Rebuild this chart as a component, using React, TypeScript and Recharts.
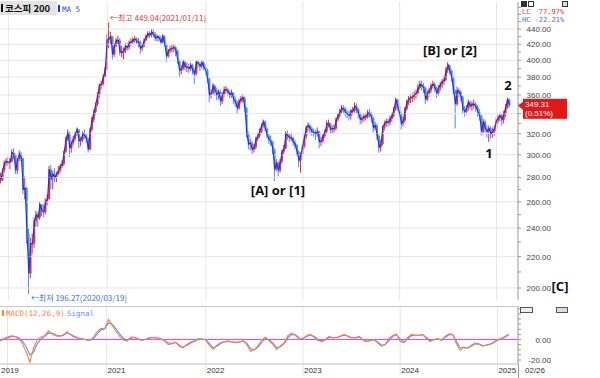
import React from "react";
import { ComposedChart, Line, Bar, XAxis, YAxis, ReferenceLine, ReferenceDot } from "recharts";

// KOSPI 200, weekly samples (week of 2019-12-02 .. 2025-02-24)
const closes = [
  278, 286, 293, 294, 293,
  294, 302, 300, 286, 296, 301, 297, 270, 271, 236, 209, 229, 229, 245, 250, 248, 258,
  253, 252, 260, 262, 287, 279, 283, 280, 283, 286, 290, 292, 303, 315, 321, 306, 311, 315,
  320, 324, 313, 314, 320, 318, 315, 305, 324, 334, 342, 350, 360, 371, 372, 380, 389,
  425, 428, 430, 407, 418, 425, 425, 410, 410, 412, 418, 416, 422, 423, 426, 427, 423,
  423, 415, 418, 425, 430, 434, 432, 436, 433, 428, 430, 428, 423, 430, 420, 405, 412, 414,
  415, 416, 412, 400, 388, 390, 398, 392, 392, 390, 394, 388, 384, 398, 396, 393, 397,
  392, 388, 378, 360, 362, 370, 365, 360, 363, 353, 360, 366, 366, 363, 360, 362, 355,
  352, 346, 353, 356, 357, 346, 320, 310, 311, 305, 307, 315, 318, 322, 328, 332, 325, 318,
  314, 312, 305, 287, 293, 286, 294, 303, 306, 320, 318, 316, 316, 312, 309, 303, 295,
  300, 308, 317, 326, 328, 325, 322, 321, 320, 322, 312, 313, 318, 322, 330, 330, 324,
  325, 325, 334, 338, 342, 346, 345, 341, 340, 338, 343, 343, 348, 345, 340, 334, 335, 337,
  337, 341, 340, 336, 326, 328, 318, 307, 310, 326, 330, 332, 331, 335, 338, 345, 355,
  348, 340, 330, 333, 345, 352, 356, 357, 358, 360, 362, 368, 372, 370, 368, 355, 362,
  365, 370, 372, 368, 362, 368, 372, 375, 377, 388, 394, 388, 380, 365, 350, 365, 363, 358,
  345, 342, 346, 352, 348, 350, 350, 347, 342, 338, 322, 332, 325, 322, 325, 320, 322,
  325, 333, 336, 338, 334, 340, 347, 355, 349.31,
];

const highs = [
  284, 288, 295, 297, 298,
  297, 305, 306, 301, 297, 304, 303, 297, 281, 272, 240, 233, 236, 248, 253, 252, 260,
  258, 258, 263, 266, 290, 291, 286, 288, 285, 290, 292, 295, 304, 317, 324, 322, 313, 318,
  322, 326, 324, 317, 322, 324, 320, 316, 326, 337, 344, 352, 363, 373, 376, 383, 392,
  433, 449.04, 436, 431, 421, 428, 431, 428, 418, 416, 422, 422, 425, 428, 429, 431, 429,
  428, 425, 421, 428, 433, 437, 437, 440, 440, 436, 433, 432, 431, 433, 432, 421, 414, 418,
  419, 420, 418, 413, 401, 394, 401, 400, 397, 396, 397, 396, 390, 400, 401, 398, 400,
  399, 395, 390, 380, 366, 373, 372, 368, 366, 366, 363, 369, 370, 368, 365, 366, 363,
  358, 354, 356, 359, 361, 358, 347, 322, 315, 313, 310, 317, 321, 325, 330, 334, 333, 326,
  320, 318, 313, 306, 296, 294, 296, 305, 309, 322, 323, 320, 321, 317, 314, 310, 304,
  302, 310, 319, 328, 331, 330, 327, 325, 324, 326, 323, 317, 320, 324, 333, 334, 331,
  328, 329, 336, 340, 345, 349, 349, 347, 344, 343, 345, 347, 352, 351, 346, 341, 338, 340,
  341, 344, 345, 342, 337, 332, 330, 319, 314, 328, 333, 335, 335, 338, 341, 347, 357,
  356, 350, 342, 337, 347, 355, 359, 361, 362, 364, 366, 372, 376, 376, 373, 369, 365,
  368, 373, 376, 374, 369, 371, 375, 378, 381, 392, 398, 395, 389, 381, 366, 369, 368, 365,
  359, 348, 349, 355, 354, 353, 355, 352, 349, 345, 339, 335, 334, 328, 328, 327, 326,
  328, 336, 339, 341, 340, 343, 350, 357, 356,
];

const lows = [
  275, 277, 284, 290, 290,
  287, 293, 296, 283, 283, 294, 294, 266, 262, 229, 196.27, 206, 222, 226, 241, 241, 246,
  249, 248, 250, 257, 262, 270, 270, 276, 276, 282, 284, 288, 290, 302, 313, 298, 302, 309,
  313, 318, 306, 308, 312, 315, 311, 302, 304, 322, 331, 339, 348, 357, 366, 370, 379,
  388, 415, 420, 401, 404, 416, 420, 406, 404, 401, 409, 412, 413, 418, 420, 422, 419,
  416, 408, 411, 416, 424, 428, 428, 429, 429, 424, 424, 423, 419, 421, 417, 398, 403, 409,
  410, 410, 405, 396, 380, 383, 388, 388, 386, 385, 387, 383, 372, 382, 391, 387, 390,
  388, 382, 373, 352, 356, 360, 359, 354, 355, 348, 350, 358, 362, 359, 356, 357, 350,
  347, 340, 344, 351, 352, 342, 316, 305, 304, 301, 302, 305, 313, 316, 320, 326, 322, 315,
  310, 308, 300, 277, 285, 281, 284, 292, 300, 305, 314, 312, 313, 308, 305, 299, 289,
  284, 298, 306, 315, 322, 320, 318, 317, 314, 317, 306, 308, 311, 316, 320, 326, 320,
  320, 321, 323, 332, 336, 340, 341, 337, 335, 333, 334, 339, 341, 340, 335, 329, 330, 332,
  333, 335, 336, 331, 321, 323, 314, 302, 303, 309, 323, 327, 327, 328, 332, 336, 343,
  343, 334, 324, 327, 331, 343, 349, 351, 352, 354, 356, 359, 366, 365, 362, 350, 353,
  358, 362, 367, 363, 357, 359, 365, 368, 371, 375, 385, 383, 375, 361, 325, 348, 358, 353,
  340, 337, 339, 343, 344, 343, 345, 342, 337, 333, 318, 319, 321, 316, 312, 315, 316,
  318, 323, 330, 332, 328, 330, 337, 345, 346,
];

// MACD(12,26,9) and signal, read every second week
const macdVals = [
  -1, 1, 2.5, 3.5, 3, 0.5, -4, -12, -22, -8, 0, 2.5, 4, 8.5, 5, 3.5, 3, 5, 7.5, 4,
  2, 1, 0.5, -0.5, -1, 2.5, 8, 11, 10.5, 19.5, 14, 8, 3, -0.5, -1.5, 2.5, 2, 0, -1, 0.5,
  2, 2, 1.5, 0.5, -1.5, -5, -4, -2.5, -7, -8, -4.5, -2.5, -1, 1, 0.5, -0.5, -6, -9.5, -5.5, -3,
  -2, -1.5, -2.5, -3, -2.5, -1, -5, -11.5, -10, -6, -0.5, 2.5, -1.5, -5, -10, -6, -3, 4, 6.5, 4,
  0, 1, 4, 5, 2, -1, -2, 0, 3, 1.5, 2, 3.5, 5, 3, 1.5, 1.5, 3, -1, -2, -1,
  0, -3.5, -6.5, -5, 1, 4, 5.5, -2, -3, 2, 5, 4, 4, 5, 1, -2, 0, 1, -1, 3,
  5.5, 5, -4, -10.5, -7.5, -8.5, -5.5, -3.5, -4.5, -6.5, -5.5, -4.5, -2.5, 0, 1, 3, 5.5,
];
const signalVals = [
  -1.5, 0, 1.5, 2.8, 3.1, 1.8, -1.5, -7, -15, -12, -4, 0.5, 3, 6.5, 6, 4.3, 3.3, 4.2, 6.3, 5,
  3, 1.5, 0.8, 0, -0.7, 1, 5.5, 9.5, 10.5, 16, 15, 10.5, 5.5, 1.2, -0.8, 1, 2, 0.8, -0.4, 0,
  1.3, 2, 1.7, 0.9, -0.6, -3.5, -4, -3, -5.5, -7.5, -5.5, -3.5, -1.8, 0, 0.5, 0, -4, -8, -6.5, -4,
  -2.5, -1.8, -2.2, -2.8, -2.6, -1.5, -3.5, -9, -10, -7.5, -2.5, 1.2, -0.3, -3.5, -8, -7, -4, 2, 5, 4.5,
  1.5, 1, 3, 4.5, 3, 0.3, -1.5, -0.6, 2, 2, 2, 3, 4.5, 3.5, 2, 1.6, 2.5, 0.2, -1.5, -1.2,
  -0.3, -2.5, -5.5, -5.2, -1, 2.8, 4.8, 0.5, -2.4, 0.5, 3.8, 4.2, 4, 4.6, 2, -1, -0.4, 0.6, -0.3, 2,
  4.5, 5, -1.5, -8, -8, -8.2, -6.5, -4.3, -4.3, -5.8, -5.6, -4.8, -3.2, -0.8, 0.6, 2.3, 4.5,
];

const yearTicks = [4, 57, 110, 162, 214, 266];
const yearLabels = ["2019", "2021", "2022", "2023", "2024", "2025"];
const priceMajor = [200, 220, 240, 260, 280, 300, 320, 340, 360, 380, 400, 420, 440];
const priceMinor = [200, 210, 220, 230, 240, 250, 260, 270, 280, 290, 300, 310, 320, 330, 340, 350, 360, 370, 380, 390, 400, 410, 420, 430, 440, 450, 460, 470];
const macdTicks = [-20, -15, -10, -5, 0, 5, 10, 15, 20, 25, 30];
const macdLabeled = [-20, 0];
const lastDailyChange = 0.51;
const padWeeks = 4;

const UP = "#ee2a2f";
const DOWN = "#4b8cf5";
const MA = "#1232f2";
const FONT = "'Liberation Sans', Arial, sans-serif";
const MONO = "'DejaVu Sans Mono', monospace";
const KR = "'Noto Sans CJK KR', sans-serif";
const PRICE_DOMAIN = [192.8, 477.7];

const n = closes.length;
const priceData = Array.from({ length: n + padWeeks }, (_, i) => {
  if (i >= n) return { i };
  const open = i > 0 ? closes[i - 1] : closes[0];
  const close = closes[i];
  return {
    i,
    close,
    range: [lows[i], highs[i]],
    body: [Math.min(open, close), Math.max(open, close)],
    up: close >= open,
  };
});

const macdData = Array.from({ length: n + padWeeks }, (_, i) => ({
  i,
  macd: i % 2 === 0 && macdVals[i / 2] !== undefined ? macdVals[i / 2] : null,
  signal: i % 2 === 0 && signalVals[i / 2] !== undefined ? signalVals[i / 2] : null,
}));

const hiIdx = highs.indexOf(Math.max(...highs));
const loIdx = lows.indexOf(Math.min(...lows));
const last = closes[n - 1];

function Wick(p: any) {
  const d = p.payload;
  if (!d || d.close == null) return null;
  const top = Math.min(p.y, p.y + p.height);
  return <rect x={p.x + p.width / 2 - 0.5} y={top} width={1} height={Math.max(1, Math.abs(p.height))} fill={d.up ? UP : DOWN} />;
}

function Body(p: any) {
  const d = p.payload;
  if (!d || d.close == null) return null;
  const top = Math.min(p.y, p.y + p.height);
  return <rect x={p.x} y={top} width={p.width} height={Math.max(1, Math.abs(p.height))} fill={d.up ? UP : DOWN} />;
}

// the last-price tag hides the label just below it
const hiddenByTag = (v: number) => v < last && Math.log(last / v) < 0.05;

function PriceTick(p: any) {
  const v = p.payload.value;
  if (!priceMajor.includes(v) || hiddenByTag(v)) return null;
  return (
    <text x={551} y={p.y + 3} textAnchor="end" fontSize={8} fontFamily={FONT} fill="#444">
      {v.toFixed(2)}
    </text>
  );
}

function MacdTick(p: any) {
  const v = p.payload.value;
  if (!macdLabeled.includes(v)) return null;
  return (
    <text x={551} y={p.y + 3} textAnchor="end" fontSize={8} fontFamily={FONT} fill="#444">
      {v.toFixed(2)}
    </text>
  );
}

function YearTick(p: any) {
  const idx = yearTicks.indexOf(p.payload.value);
  const tx = idx === 0 ? 1 : p.x + 1;
  return (
    <g>
      <line x1={p.x} x2={p.x} y1={p.y - 8} y2={p.y + 3} stroke="#e2e2e2" />
      <text x={tx} y={p.y + 1} fontSize={8} fontFamily={FONT} fill="#333">
        {yearLabels[idx]}
      </text>
    </g>
  );
}

function PriceTag(props: any) {
  const vb = props.viewBox;
  if (!vb) return null;
  const x = vb.x + vb.width;
  const y = vb.y;
  return (
    <g>
      <polygon points={`${x},${y + 1} ${x + 5},${y - 3} ${x + 5},${y + 5}`} fill="#e01818" />
      <rect x={x + 5} y={y - 6} width={44} height={20} fill="#e01818" />
      <text x={x + 7} y={y + 2} fontSize={8} fontFamily={FONT} fill="#fff">{last.toFixed(2)}</text>
      <text x={x + 7} y={y + 11} fontSize={8} fontFamily={FONT} fill="#fff">({lastDailyChange.toFixed(2)}%)</text>
    </g>
  );
}

function HighLabel(props: any) {
  const vb = props.viewBox;
  if (!vb) return null;
  return (
    <text x={vb.x + 2} y={vb.y} fontSize={8} fontFamily={KR} fill="#e0383c">
      ←최고 {highs[hiIdx].toFixed(2)}(2021/01/11)
    </text>
  );
}

function LowLabel(props: any) {
  const vb = props.viewBox;
  if (!vb) return null;
  return (
    <text x={vb.x + 3} y={vb.y + 8} fontSize={8} fontFamily={KR} fill="#3b74d6">
      ←최저 {lows[loIdx].toFixed(2)}(2020/03/19)
    </text>
  );
}

const bigText = { fontFamily: "'Open Sans', 'Noto Sans', sans-serif", fontSize: 13, fontWeight: 700, fill: "#111" } as const;

export default function App() {
  return (
    <div style={{ position: "absolute", left: 0, top: 0, width: 600, height: 378, background: "#fff", overflow: "hidden" }}>
      <div style={{ position: "absolute", left: 0, top: 0 }}>
        <ComposedChart width={600} height={306} data={priceData} margin={{ top: 2, right: 0, bottom: 6, left: 0 }}>
          <XAxis xAxisId="w" dataKey="i" hide />
          <XAxis xAxisId="b" dataKey="i" hide />
          <YAxis
            orientation="right"
            width={82}
            scale="log"
            domain={PRICE_DOMAIN}
            allowDataOverflow
            ticks={priceMinor}
            interval={0}
            tick={PriceTick}
            tickSize={3}
            tickLine={{ stroke: "#999" }}
            axisLine={{ stroke: "#999" }}
          />
          {priceMajor.map((v) => (
            <ReferenceLine key={v} xAxisId="w" y={v} stroke="#e6e6e6" />
          ))}
          {yearTicks.map((t) => (
            <ReferenceLine key={t} xAxisId="w" x={t} stroke="#e6e6e6" />
          ))}
          <Bar xAxisId="w" dataKey="range" barSize={1} shape={Wick} isAnimationActive={false} />
          <Bar xAxisId="b" dataKey="body" barSize={2} shape={Body} isAnimationActive={false} />
          <Line xAxisId="w" dataKey="close" stroke={MA} strokeWidth={1.1} dot={false} isAnimationActive={false} />
          <ReferenceDot xAxisId="w" x={hiIdx} y={highs[hiIdx]} r={1} fill="none" stroke="none" label={HighLabel} />
          <ReferenceDot xAxisId="w" x={loIdx} y={lows[loIdx]} r={1} fill="none" stroke="none" label={LowLabel} />
        </ComposedChart>
      </div>
      {/* last-price tag layer, same scale, drawn above the axis */}
      <div style={{ position: "absolute", left: 0, top: 0 }}>
        <ComposedChart width={600} height={306} data={priceData} margin={{ top: 2, right: 82, bottom: 6, left: 0 }}>
          <XAxis dataKey="i" hide />
          <YAxis hide scale="log" domain={PRICE_DOMAIN} allowDataOverflow />
          <ReferenceLine y={last} stroke="none" label={PriceTag} />
        </ComposedChart>
      </div>
      <div style={{ position: "absolute", left: 0, top: 306 }}>
        <ComposedChart width={600} height={72} data={macdData} margin={{ top: 0, right: 0, bottom: 0, left: 0 }}>
          <XAxis
            dataKey="i"
            ticks={yearTicks}
            interval={0}
            height={14}
            tick={YearTick}
            tickLine={false}
            axisLine={{ stroke: "#bbb" }}
          />
          <YAxis
            orientation="right"
            width={82}
            domain={[-23.9, 32.7]}
            allowDataOverflow
            ticks={macdTicks}
            interval={0}
            tick={MacdTick}
            tickSize={3}
            tickLine={{ stroke: "#999" }}
            axisLine={{ stroke: "#999" }}
          />
          {yearTicks.map((t) => (
            <ReferenceLine key={t} x={t} stroke="#e6e6e6" />
          ))}
          <ReferenceLine y={0} stroke="#ff3cff" strokeWidth={1.2} />
          <Line dataKey="signal" stroke="#5f8ff2" strokeWidth={1.1} dot={false} connectNulls isAnimationActive={false} />
          <Line dataKey="macd" stroke="#f5843a" strokeWidth={1.1} dot={false} connectNulls isAnimationActive={false} />
        </ComposedChart>
      </div>
      <svg width={600} height={378} style={{ position: "absolute", left: 0, top: 0, pointerEvents: "none" }}>
        {/* title */}
        <rect x={0} y={1} width={57} height={14} fill="#e4e4e4" />
        <rect x={1} y={4} width={2} height={8} fill="#111" />
        <text x={5} y={12} fontFamily={KR} fontSize={9.5} fontWeight={700} fill="#111">코스피 200</text>
        <rect x={58} y={5} width={2} height={7} fill={MA} />
        <text x={62} y={12} fontFamily={MONO} fontSize={7.5} fill="#2748e8">MA 5</text>
        {/* right top */}
        <rect x={521} y={1} width={6} height={6} fill="#333" />
        <rect x={528.5} y={1.5} width={5} height={5} fill="none" stroke="#333" />
        <rect x={562.5} y={1.5} width={5} height={5} fill="#ddd" stroke="#333" />
        <text x={522} y={14} fontFamily={MONO} fontSize={7} fill="#e0383c" xmlSpace="preserve">LC  77.97%</text>
        <text x={522} y={22} fontFamily={MONO} fontSize={7} fill="#3b74d6">HC -22.21%</text>
        {/* wave annotations */}
        <text x={278} y={195} textAnchor="middle" {...bigText}>[A] or [1]</text>
        <text x={450} y={55} textAnchor="middle" {...bigText}>[B] or [2]</text>
        <text x={489} y={158} textAnchor="middle" {...bigText}>1</text>
        <text x={508} y={90} textAnchor="middle" {...bigText}>2</text>
        <text x={560} y={291} textAnchor="middle" {...bigText}>[C]</text>
        {/* macd panel */}
        <line x1={0} x2={518} y1={306.5} y2={306.5} stroke="#c8c8c8" />
        <line x1={518.5} x2={518.5} y1={364} y2={378} stroke="#999" />
        <rect x={2} y={310} width={2} height={6} fill="#f5843a" />
        <text x={6} y={316} fontFamily={MONO} fontSize={7.5} fill="#f5843a">MACD(12,26,9)</text>
        <text x={67} y={316} fontFamily={MONO} fontSize={7.5} fill="#5f8ff2">Signal</text>
        <rect x={520.5} y={307.5} width={12} height={5} fill="#eee" stroke="#555" />
        <rect x={556.5} y={307.5} width={11} height={5} fill="#ddd" stroke="#555" />
        <text x={525} y={373} fontFamily={FONT} fontSize={8} fill="#333">02/26</text>
      </svg>
    </div>
  );
}
